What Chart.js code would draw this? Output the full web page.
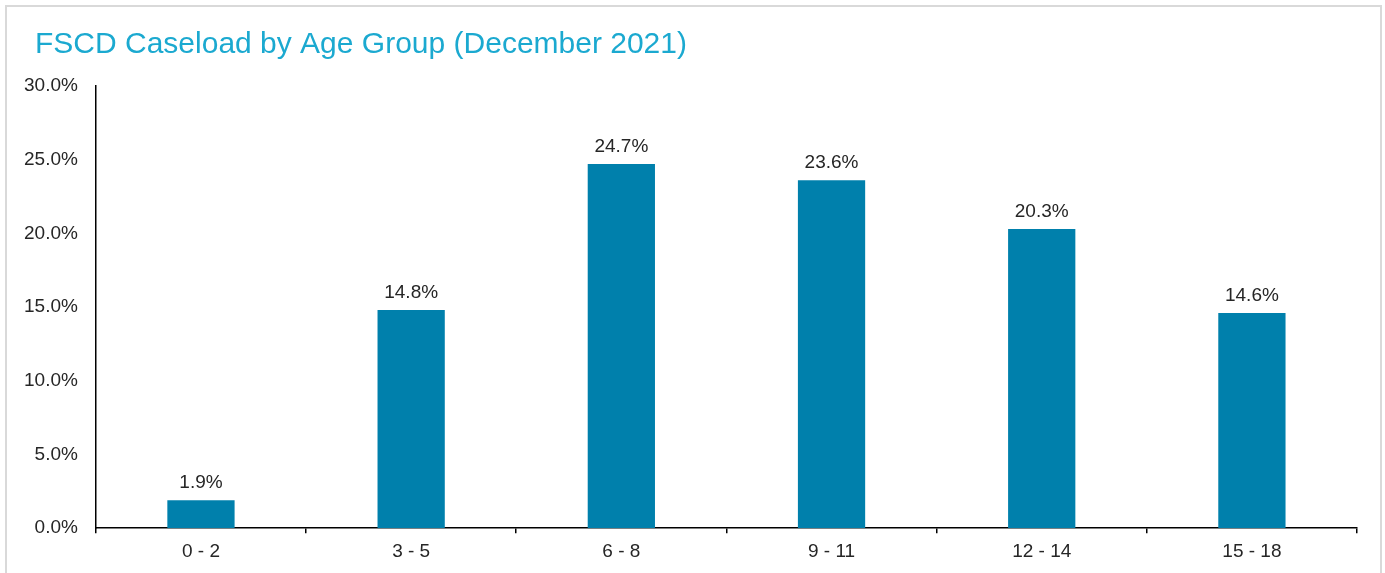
<!DOCTYPE html>
<html>
<head>
<meta charset="utf-8">
<script src="https://cdn.jsdelivr.net/npm/chart.js@4"></script>
<style>
  html, body { margin: 0; padding: 0; background: #fff; overflow: hidden; }
  #wrap { position: relative; width: 1385px; height: 573px; }
  #frame {
    position: absolute; left: 5px; top: 5px; width: 1377px; height: 600px;
    border: 2px solid #d9d9d9; box-sizing: border-box;
  }
  canvas { position: absolute; left: 0; top: 0; }
</style>
</head>
<body>
<div id="wrap">
  <div id="frame"></div>
  <canvas id="chart" width="1385" height="573"></canvas>
</div>
<script>
// Valores
const ageGroups = ['0 - 2', '3 - 5', '6 - 8', '9 - 11', '12 - 14', '15 - 18'];
const caseloadShare = [1.9, 14.8, 24.7, 23.6, 20.3, 14.6];
const chartTitle = 'FSCD Caseload by Age Group (December 2021)';

const FONT = "'Liberation Sans', Arial, sans-serif";

// Título desenhado à mão (alinhado independentemente do eixo)
const titlePlugin = {
  id: 'titlePlugin',
  afterDraw(chart) {
    const ctx = chart.ctx;
    ctx.save();
    ctx.font = `30px ${FONT}`;
    ctx.fillStyle = '#1BA9D0';
    ctx.textAlign = 'left';
    ctx.textBaseline = 'alphabetic';
    ctx.fillText(chartTitle, 35, 53);
    ctx.restore();
  }
};

// Rótulos acima das barras
const barLabels = {
  id: 'barLabels',
  afterDatasetsDraw(chart) {
    const ctx = chart.ctx;
    const meta = chart.getDatasetMeta(0);
    ctx.save();
    ctx.font = `19px ${FONT}`;
    ctx.fillStyle = '#262626';
    ctx.textAlign = 'center';
    ctx.textBaseline = 'alphabetic';
    meta.data.forEach((bar, i) => {
      ctx.fillText(caseloadShare[i].toFixed(1) + '%', bar.x, bar.y - 12);
    });
    ctx.restore();
  }
};

new Chart(document.getElementById('chart').getContext('2d'), {
  type: 'bar',
  data: {
    labels: ageGroups,
    datasets: [{
      data: caseloadShare,
      backgroundColor: '#0080AC',
      borderWidth: 0,
      categoryPercentage: 1,
      barPercentage: 0.32
    }]
  },
  options: {
    responsive: false,
    animation: false,
    devicePixelRatio: 1,
    layout: { padding: { left: 6, right: 28, top: 86, bottom: 3 } },
    plugins: {
      legend: { display: false },
      tooltip: { enabled: false },
      title: { display: false }
    },
    scales: {
      x: {
        grid: {
          display: true,
          drawOnChartArea: false,
          drawTicks: true,
          tickLength: 5,
          color: '#000',
          lineWidth: 1.5
        },
        border: { display: true, color: '#000', width: 1.5 },
        ticks: {
          color: '#262626',
          padding: 7,
          font: { family: FONT, size: 19 }
        }
      },
      y: {
        min: 0,
        max: 30,
        grid: { display: false, drawTicks: false },
        border: { display: true, color: '#000', width: 1.5 },
        ticks: {
          stepSize: 5,
          color: '#262626',
          padding: 18,
          font: { family: FONT, size: 19 },
          callback: v => v.toFixed(1) + '%'
        }
      }
    }
  },
  plugins: [barLabels, titlePlugin]
});
</script>
</body>
</html>
